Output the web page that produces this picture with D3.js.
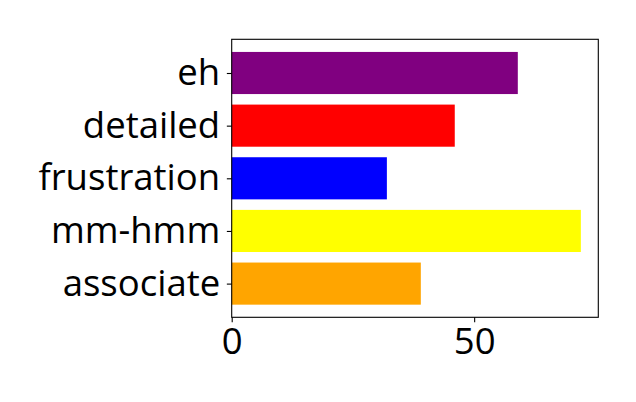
<!DOCTYPE html>
<html><head><meta charset="utf-8">
<script src="https://cdn.jsdelivr.net/npm/d3@7"></script>
<style>body{margin:0;background:#fff}svg{display:block}</style>
</head><body>
<script>
const categories = ["associate", "mm-hmm", "frustration", "detailed", "eh"];
const values = [39, 72, 32, 46, 59];
const colors = ["orange", "yellow", "blue", "red", "purple"];
const xTicks = [0, 50];

const W = 636, H = 402;
const L = 231.7, R = 598.3, T = 39.3, B = 317.3;
const FS = "36.5px", FF = "'Open Sans', 'Noto Sans', sans-serif";
const TICK = 4.86, PAD = 4.86;

const svg = d3.select("body").append("svg").attr("width", W).attr("height", H);

const x = d3.scaleLinear().domain([0, d3.max(values) * 1.05]).range([L, R]);
const n = categories.length;
const y = d3.scaleLinear().domain([-0.4 - 0.05 * (n - 0.2), n - 1 + 0.4 + 0.05 * (n - 0.2)]).range([B, T]);
const bw = 0.8;

svg.selectAll("rect.bar").data(values).enter().append("rect")
  .attr("class", "bar")
  .attr("x", x(0))
  .attr("y", (d, i) => y(i + bw / 2))
  .attr("width", d => x(d) - x(0))
  .attr("height", (d, i) => y(i - bw / 2) - y(i + bw / 2))
  .attr("fill", (d, i) => colors[i]);

// frame
svg.append("rect").attr("x", L).attr("y", T).attr("width", R - L).attr("height", B - T)
  .attr("fill", "none").attr("stroke", "#000").attr("stroke-width", 1.1);

// x axis
const xAxis = d3.axisBottom(x).tickValues(xTicks).tickSize(TICK).tickPadding(PAD).tickFormat(d3.format("d"));
const gx = svg.append("g").attr("transform", `translate(0,${B})`).call(xAxis);
gx.select(".domain").remove();
gx.selectAll("line").attr("stroke-width", 1.1);
gx.selectAll("text").attr("font-size", FS).attr("font-family", FF).attr("fill", "#000")
  .attr("y", 353.8 - B).attr("dy", 0);

// y axis
const yAxis = d3.axisLeft(y).tickValues(d3.range(n)).tickSize(TICK).tickPadding(PAD + 1.8)
  .tickFormat(i => categories[i]);
const gy = svg.append("g").attr("transform", `translate(${L},0)`).call(yAxis);
gy.select(".domain").remove();
gy.selectAll("line").attr("stroke-width", 1.1);
gy.selectAll("text").attr("font-size", FS).attr("font-family", FF).attr("fill", "#000")
  .attr("dy", "0.32em");
</script>
</body></html>
